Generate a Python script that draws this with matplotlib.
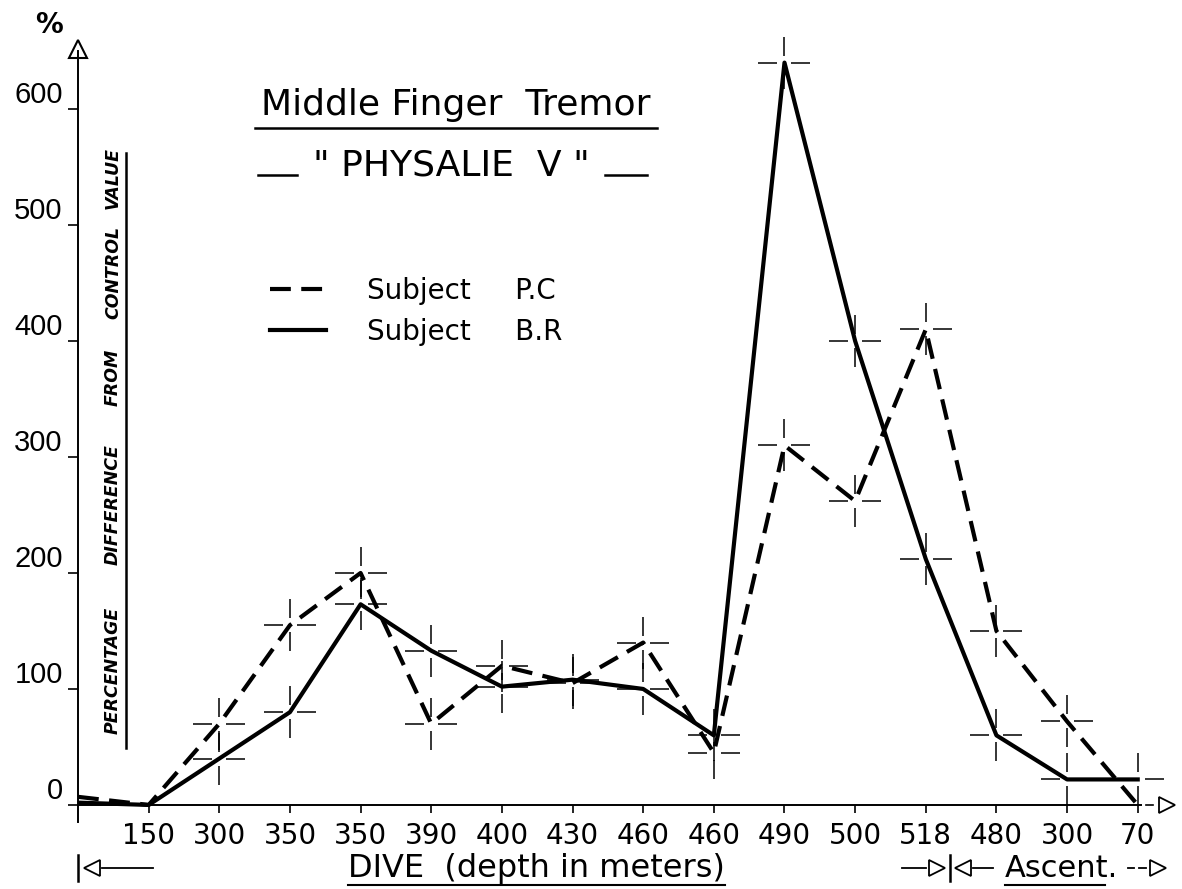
import matplotlib.pyplot as plt
from matplotlib.path import Path
from matplotlib.lines import Line2D

# depth stations along the dive (first point is the origin = control)
depth_labels = ['150', '300', '350', '350', '390', '400', '430', '460', '460',
                '490', '500', '518', '480', '300', '70']
# percentage difference from control value
subject_pc = [7, 0, 70, 155, 200, 70, 120, 105, 140, 45, 310, 262, 410, 150, 72, 0]
subject_br = [2, 0, 40, 80, 173, 133, 102, 108, 100, 60, 640, 400, 212, 60, 22, 22]
y_ticks = [0, 100, 200, 300, 400, 500, 600]
axis_words = ['PERCENTAGE', 'DIFFERENCE', 'FROM', 'CONTROL', 'VALUE']

W, H = 1182, 889

def fx(px):
    return px / W

def fy(py):
    return 1 - py / H

fig = plt.figure(figsize=(W / 100, H / 100), dpi=100)
fig.patch.set_facecolor('white')
ax = fig.add_axes([fx(78), fy(822), fx(1178) - fx(78), fy(32) - fy(822)])

x = list(range(len(subject_pc)))

# open cross used to mark each reading
g = 0.25
cross = Path([(-1, 0), (-g, 0), (g, 0), (1, 0), (0, -1), (0, -g), (0, g), (0, 1)],
             [Path.MOVETO, Path.LINETO] * 4)

pc_line, = ax.plot(x, subject_pc, color='black', lw=3, ls=(0, (5, 2.5)), solid_capstyle='butt')
br_line, = ax.plot(x, subject_br, color='black', lw=3)
ax.plot(x[2:-1], subject_pc[2:-1], ls='none', marker=cross, ms=38, mew=1.1, mec='black')
ax.plot(x[2:], subject_br[2:], ls='none', marker=cross, ms=38, mew=1.1, mec='black')

ax.set_xlim(0, 15.57)
ax.set_ylim(-14.7, 666.4)

for s in ['top', 'right']:
    ax.spines[s].set_visible(False)
ax.spines['bottom'].set_position(('data', 0))
ax.spines['bottom'].set_bounds(0, 15.05)
ax.spines['left'].set_bounds(-14.7, 650)
ax.spines['left'].set_linewidth(1.4)
ax.spines['bottom'].set_linewidth(1.4)

ax.set_xticks(range(1, len(depth_labels) + 1))
ax.set_xticklabels(depth_labels, family=['Liberation Sans Narrow', 'DejaVu Sans'], fontsize=20)
ax.tick_params(axis='x', direction='out', length=6, width=1.2, pad=6)
ax.set_yticks(y_ticks)
ax.set_yticklabels([str(v) for v in y_ticks], family=['Liberation Sans', 'DejaVu Sans'], fontsize=21)
ax.tick_params(axis='y', direction='out', length=7, width=1.2, pad=4)
for t in ax.get_yticklabels():
    t.set_verticalalignment('bottom')

# axis arrow heads
ax.plot([0], [652], marker='^', ms=13, mfc='white', mec='black', mew=1.5, clip_on=False)
ax.plot([15.12, 15.22], [0, 0], color='black', lw=1.2, clip_on=False)
ax.plot([15.42], [0], marker='>', ms=12, mfc='white', mec='black', mew=1.3, clip_on=False)
fig.text(fx(49), fy(25), '%', fontsize=20, fontweight='bold', ha='center', va='center')

# title block
fig.text(fx(456), fy(115), 'Middle Finger  Tremor', fontsize=26, ha='center', va='baseline')
fig.add_artist(Line2D([fx(255), fx(657)], [fy(128), fy(128)], color='black', lw=1.8))
fig.text(fx(451), fy(175), '" PHYSALIE  V "', fontsize=26, ha='center', va='baseline')
fig.add_artist(Line2D([fx(258), fx(297)], [fy(175), fy(175)], color='black', lw=1.8))
fig.add_artist(Line2D([fx(605), fx(647)], [fy(175), fy(175)], color='black', lw=1.8))

# legend
ax.legend(handles=[pc_line, br_line], labels=['Subject     P.C', 'Subject     B.R'],
          loc='upper left', bbox_to_anchor=(fx(245), fy(252)), bbox_transform=fig.transFigure,
          frameon=False, fontsize=20, handlelength=2.0, handletextpad=1.5, labelspacing=0.45)

# vertical axis caption
word_y = [670, 505, 377, 272, 178]
for w, py in zip(axis_words, word_y):
    fig.text(fx(113), fy(py), w, fontsize=12.5, style='italic', fontweight='bold',
             rotation=90, ha='center', va='center')
fig.add_artist(Line2D([fx(126), fx(126)], [fy(153), fy(748)], color='black', lw=1.8))

# bottom captions
fig.text(fx(348), fy(877), 'DIVE  (depth in meters)', fontsize=23, ha='left', va='baseline')
fig.add_artist(Line2D([fx(348), fx(725)], [fy(885), fy(885)], color='black', lw=1.5))
fig.text(fx(1005), fy(877), 'Ascent.', fontsize=22, ha='left', va='baseline')
fig.add_artist(Line2D([fx(1005), fx(1105)], [fy(885), fy(885)], color='black', lw=1.5))

def seg(x0, x1, y0, y1, lw=1.3):
    fig.add_artist(Line2D([fx(x0), fx(x1)], [fy(y0), fy(y1)], color='black', lw=lw))

def tri(px, py, m):
    fig.add_artist(Line2D([fx(px)], [fy(py)], marker=m, ms=12, mfc='white', mec='black', mew=1.3))

seg(78, 78, 855, 881, lw=1.8)
tri(92, 868, '<')
seg(102, 153, 868, 868)
seg(902, 926, 868, 868)
tri(937, 868, '>')
seg(950, 950, 855, 881, lw=1.8)
tri(963, 868, '<')
seg(973, 993, 868, 868)
seg(1128, 1134, 868, 868)
seg(1139, 1146, 868, 868)
tri(1158, 868, '>')

fig.savefig('out.png', dpi=100, facecolor='white')
